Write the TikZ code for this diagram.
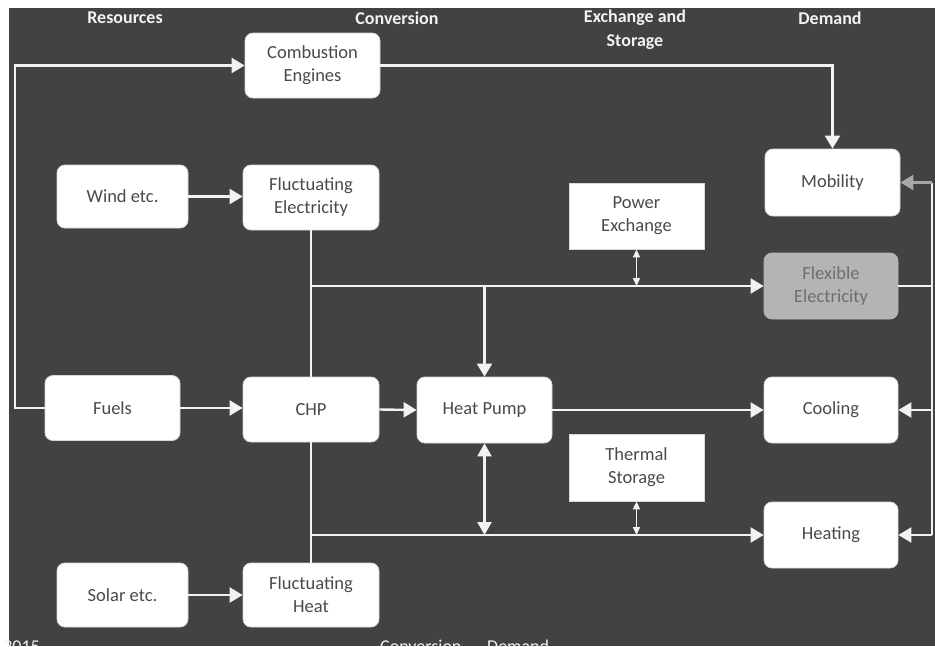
\documentclass[tikz,border=0pt]{standalone}
\usepackage{fontspec}
\setmainfont{Carlito}
\usetikzlibrary{arrows.meta,calc}
\definecolor{bg}{HTML}{424242}
\definecolor{boxtext}{HTML}{4A4A4A}
\definecolor{boxline}{HTML}{D8D8D8}
\definecolor{linecol}{HTML}{F2F2F2}
\definecolor{flexfill}{HTML}{B4B4B4}
\definecolor{flextext}{HTML}{6E6E6E}
\definecolor{grayarrow}{HTML}{A8A8A8}
\begin{document}
\begin{tikzpicture}[x=1pt,y=-1pt,
  box/.style={draw=boxline, line width=0.8pt, fill=white, rounded corners=8pt,
    text=boxtext, font=\fontsize{18.5}{23}\selectfont, align=center, inner sep=2pt},
  sqbox/.style={box, rounded corners=0pt},
  hdr/.style={text=linecol, font=\bfseries\fontsize{18}{24}\selectfont, align=center, inner sep=0pt},
  conn/.style={draw=linecol, line width=2.4pt},
  flow/.style={conn, -{Triangle[width=15pt,length=13pt]}},
  dblsmall/.style={draw=linecol, line width=1.6pt, {Triangle[width=7pt,length=8pt]}-{Triangle[width=7pt,length=8pt]}},
  dblbig/.style={conn, {Triangle[width=14pt,length=13pt]}-{Triangle[width=14pt,length=13pt]}}
]
\useasboundingbox (0,0) rectangle (935,646);
\clip (0,0) rectangle (935,646);
\fill[white] (0,0) rectangle (935,646);
\fill[bg] (9,8) rectangle (935,646);

% headers
\node[hdr] (hres) at (125,18) {Resources};
\node[hdr] (hconv) at (397,18) {Conversion};
\node[hdr] (hexs) at (635,30) {Exchange and\\Storage};
\node[hdr] (hdem) at (830,18) {Demand};

% clipped footer text
\node[text=linecol, font=\fontsize{18}{22}\selectfont, anchor=base east, inner sep=0pt] (f1) at (40,652) {2015};
\node[text=linecol, font=\fontsize{18}{22}\selectfont, anchor=base west, inner sep=0pt] (f2) at (380,652) {Conversion};
\node[text=linecol, font=\fontsize{18}{22}\selectfont, anchor=base west, inner sep=0pt] (f3) at (487,652) {Demand};

% boxes
\node[box, minimum width=135pt, minimum height=65pt] (ce) at (312.5,65.5) {Combustion\\Engines};
\node[box, minimum width=131pt, minimum height=63pt] (wind) at (122.5,196.5) {Wind etc.};
\node[box, minimum width=136pt, minimum height=65pt] (fe) at (311,197.5) {Fluctuating\\Electricity};
\node[box, minimum width=135pt, minimum height=67pt] (mob) at (832.5,182.5) {Mobility};
\node[sqbox, minimum width=135pt, minimum height=66pt] (px) at (636.5,216) {Power\\Exchange};
\node[box, minimum width=134pt, minimum height=66pt, fill=flexfill, text=flextext, draw=flexfill] (flex) at (831,286) {Flexible\\Electricity};
\node[box, minimum width=135pt, minimum height=65pt] (fuels) at (112.5,408) {Fuels};
\node[box, minimum width=136pt, minimum height=65pt] (chp) at (311,409.5) {CHP};
\node[box, minimum width=135pt, minimum height=66pt] (hp) at (484.5,410) {Heat Pump};
\node[box, minimum width=134pt, minimum height=66pt] (cool) at (831,410) {Cooling};
\node[sqbox, minimum width=135pt, minimum height=67pt] (ts) at (636.5,467.5) {Thermal\\Storage};
\node[box, minimum width=134pt, minimum height=66pt] (heat) at (831,535) {Heating};
\node[box, minimum width=131pt, minimum height=64pt] (solar) at (122.5,595) {Solar etc.};
\node[box, minimum width=136pt, minimum height=64pt] (fh) at (311,595) {Fluctuating\\Heat};

\coordinate (lft) at (15,0);
\coordinate (rgt) at (932,0);

% fuels to combustion engines
\draw[flow] (fuels.west) -- (fuels.west -| lft) |- (ce.west);
% combustion engines to mobility
\draw[flow] (ce.east) -| (mob.north);
% resources to conversion
\draw[flow] (wind.east) -- (wind.east -| fe.west);
\draw[flow] (fuels.east) -- (fuels.east -| chp.west);
\draw[flow] (solar.east) -- (solar.east -| fh.west);
\draw[flow] (chp.east) -- (hp.west);
\draw[flow] (hp.east) -- (hp.east -| cool.west);

% electricity bus
\coordinate (eb) at (fe.south |- flex.west);
\draw[conn] (fe.south) -- (chp.north);
\draw[flow] (eb) -- (flex.west);
\draw[flow] (hp.north |- flex.west) -- (hp.north);
\draw[dblsmall] (px.south) -- (px.south |- flex.west);

% heat bus
\coordinate (hb) at (chp.south |- heat.west);
\draw[conn] (chp.south) -- (fh.north);
\draw[flow] (hb) -- (heat.west);
\draw[dblbig] (hp.south) -- (hp.south |- heat.west);
\draw[dblsmall] (ts.south) -- (ts.south |- heat.west);

% right side distribution
\draw[conn] (flex.east) -- (flex.east -| rgt);
\draw[conn] (mob.east -| rgt) -- (heat.east -| rgt);
\draw[conn, -{Triangle[width=15pt,length=13pt]}, draw=grayarrow] (mob.east -| rgt) -- (mob.east);
\draw[flow] (cool.east -| rgt) -- (cool.east);
\draw[flow] (heat.east -| rgt) -- (heat.east);
\end{tikzpicture}
\end{document}
